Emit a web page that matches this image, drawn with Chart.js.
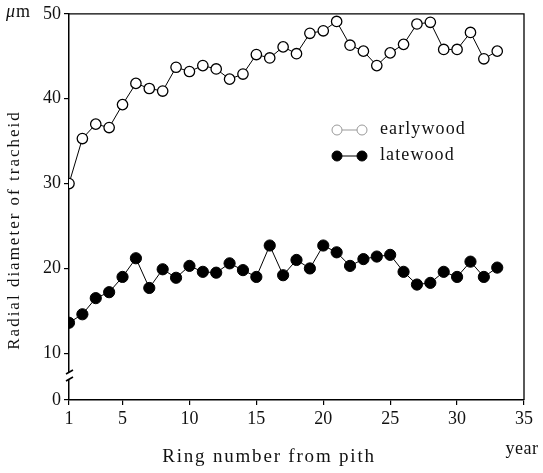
<!DOCTYPE html>
<html>
<head>
<meta charset="utf-8">
<script src="https://cdn.jsdelivr.net/npm/chart.js@4/dist/chart.umd.min.js"></script>
<style>
html,body{margin:0;padding:0;background:#fff;}
#wrap{position:relative;width:543px;height:473px;}
</style>
</head>
<body>
<div id="wrap"><canvas id="c" width="543" height="473"></canvas></div>
<script>
// Ring number from pith (year)
const rings = [1,2,3,4,5,6,7,8,9,10,11,12,13,14,15,16,17,18,19,20,21,22,23,24,25,26,27,28,29,30,31,32,33];
// Radial diameter of tracheid (µm)
const earlywood = [30.0,35.3,37.0,36.6,39.3,41.8,41.2,40.9,43.7,43.2,43.9,43.5,42.3,42.9,45.2,44.8,46.1,45.3,47.7,48.0,49.1,46.3,45.6,43.9,45.4,46.4,48.8,49.0,45.8,45.8,47.8,44.7,45.6];
const latewood  = [13.6,14.6,16.5,17.2,19.0,21.2,17.7,19.9,18.9,20.3,19.6,19.5,20.6,19.8,19.0,22.7,19.2,21.0,20.0,22.7,21.9,20.3,21.1,21.4,21.6,19.6,18.1,18.3,19.6,19.0,20.8,19.0,20.1];
const xTicks = [1,5,10,15,20,25,30,35];
const yTicks = [10,20,30,40,50];
const yBreakBase = 4.5;   // position used for the "0" label below the axis break
const yZeroLabel = "0";

const FONT = "'Liberation Serif','DejaVu Serif',serif";

function spacedText(ctx, text, x, y, spacing) {
  if ('letterSpacing' in ctx) {
    ctx.letterSpacing = spacing + 'px';
    ctx.fillText(text, x, y);
    ctx.letterSpacing = '0px';
  } else {
    ctx.fillText(text, x, y);
  }
}

const framePlugin = {
  id: 'frame',
  afterDraw(chart) {
    const {ctx, chartArea: a, scales} = chart;
    const ys = scales.y;
    ctx.save();
    // top and right frame
    ctx.strokeStyle = '#000';
    ctx.lineWidth = 1.3;
    ctx.beginPath();
    ctx.moveTo(a.left, a.top); ctx.lineTo(a.right, a.top); ctx.lineTo(a.right, a.bottom);
    ctx.stroke();
    // axis break
    const y10 = ys.getPixelForValue(10);
    const y0 = ys.getPixelForValue(yBreakBase);
    const g1 = y10 + (y0 - y10) * 0.40, g2 = y10 + (y0 - y10) * 0.55;
    ctx.fillStyle = '#fff';
    ctx.fillRect(a.left - 3, g1, 6, g2 - g1);
    ctx.lineWidth = 1.6;
    ctx.beginPath();
    ctx.moveTo(a.left - 3, g1 + 2); ctx.lineTo(a.left + 4, g1 - 2);
    ctx.moveTo(a.left - 3, g2 + 2); ctx.lineTo(a.left + 4, g2 - 2);
    ctx.stroke();
    // texts
    ctx.fillStyle = '#111';
    ctx.textBaseline = 'middle';
    ctx.textAlign = 'center';
    ctx.font = "19px " + FONT;
    spacedText(ctx, 'Ring number from pith', 269, 457, 1.8);
    ctx.font = "18px " + FONT;
    spacedText(ctx, 'year', 522, 449, 0.5);
    ctx.textAlign = 'left';
    ctx.font = "italic 18px " + FONT;
    ctx.fillText('\u03bc', 6, 12);
    ctx.font = "18px " + FONT;
    ctx.fillText('m', 16, 12);
    ctx.save();
    ctx.translate(15, 230);
    ctx.rotate(-Math.PI / 2);
    ctx.textAlign = 'center';
    ctx.font = "17px " + FONT;
    spacedText(ctx, 'Radial diameter of tracheid', 0, 0, 2);
    ctx.restore();
    // legend
    const items = [
      {label: 'earlywood', y: 130, fill: '#fff', stroke: '#999'},
      {label: 'latewood', y: 156, fill: '#000', stroke: '#000'}
    ];
    items.forEach(it => {
      ctx.strokeStyle = it.stroke;
      ctx.lineWidth = 1;
      ctx.beginPath(); ctx.moveTo(337, it.y); ctx.lineTo(362, it.y); ctx.stroke();
      [337, 362].forEach(x => {
        ctx.beginPath(); ctx.arc(x, it.y, 5, 0, Math.PI * 2);
        ctx.fillStyle = it.fill; ctx.fill(); ctx.stroke();
      });
      ctx.fillStyle = '#111';
      ctx.font = "18px " + FONT;
      ctx.textAlign = 'left';
      spacedText(ctx, it.label, 380, it.y - 1, 1.1);
    });
    ctx.restore();
  }
};

new Chart(document.getElementById('c'), {
  type: 'line',
  data: {
    datasets: [
      {
        label: 'earlywood',
        data: rings.map((r, i) => ({x: r, y: earlywood[i]})),
        borderColor: '#000', borderWidth: 1,
        pointRadius: 5.2, pointBackgroundColor: '#fff', pointBorderColor: '#000', pointBorderWidth: 1.3,
        tension: 0
      },
      {
        label: 'latewood',
        data: rings.map((r, i) => ({x: r, y: latewood[i]})),
        borderColor: '#000', borderWidth: 1,
        pointRadius: 5.6, pointBackgroundColor: '#000', pointBorderColor: '#000', pointBorderWidth: 1,
        tension: 0
      }
    ]
  },
  options: {
    responsive: false,
    animation: false,
    layout: {padding: {top: 11, right: 19, left: 0, bottom: 0}},
    plugins: {legend: {display: false}, tooltip: {enabled: false}},
    scales: {
      x: {
        type: 'linear', min: 1, max: 35,
        afterBuildTicks: s => { s.ticks = xTicks.map(v => ({value: v})); },
        afterFit: s => { s.height = 73; },
        grid: {display: true, drawOnChartArea: false, drawTicks: true, tickLength: 5, color: '#000', lineWidth: 1.2},
        border: {display: true, color: '#000', width: 1.5},
        ticks: {color: '#111', font: {family: FONT, size: 18}, padding: 3, maxRotation: 0}
      },
      y: {
        type: 'linear', min: yBreakBase, max: 50,
        afterBuildTicks: s => { s.ticks = [yBreakBase].concat(yTicks).map(v => ({value: v})); },
        afterFit: s => { s.width = 69; },
        grid: {display: true, drawOnChartArea: false, drawTicks: true, tickLength: 5, color: '#000', lineWidth: 1.2},
        border: {display: true, color: '#000', width: 1.5},
        ticks: {color: '#111', font: {family: FONT, size: 18}, padding: 3,
          callback: v => (v === yBreakBase ? yZeroLabel : String(v))}
      }
    }
  },
  plugins: [framePlugin]
});
</script>
</body>
</html>
